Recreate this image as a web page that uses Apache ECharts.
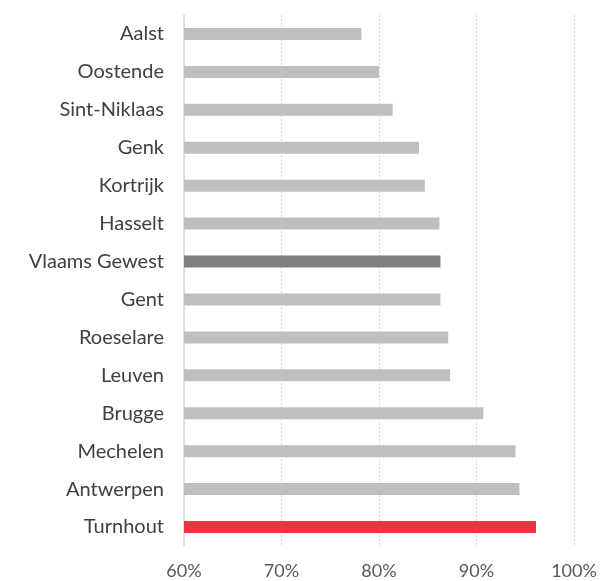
<!DOCTYPE html>
<html>
<head>
<meta charset="utf-8">
<script src="https://cdn.jsdelivr.net/npm/echarts@6/dist/echarts.min.js"></script>
<style>
  html, body { margin: 0; padding: 0; background: #fff; }
  #main { width: 602px; height: 581px; }
</style>
</head>
<body>
<div id="main"></div>
<script>
// steden, van boven naar onder
const cities = ['Aalst', 'Oostende', 'Sint-Niklaas', 'Genk', 'Kortrijk', 'Hasselt', 'Vlaams Gewest',
  'Gent', 'Roeselare', 'Leuven', 'Brugge', 'Mechelen', 'Antwerpen', 'Turnhout'];
const values = [78.2, 80.0, 81.4, 84.1, 84.7, 86.2, 86.3, 86.3, 87.1, 87.3, 90.7, 94.0, 94.4, 96.1];
const xTicks = [60, 70, 80, 90, 100];

const barColor = (name) => {
  if (name === 'Vlaams Gewest') return '#7f7f7f';
  if (name === 'Turnhout') return '#e63740';
  return '#bfbfbf';
};

const chart = echarts.init(document.getElementById('main'), null, { renderer: 'canvas' });

const option = {
  animation: false,
  grid: { left: 184, right: 28, top: 15, bottom: 35, containLabel: false },
  xAxis: {
    type: 'value',
    min: xTicks[0],
    max: xTicks[xTicks.length - 1],
    interval: 10,
    axisLine: { show: false },
    axisTick: { show: false },
    splitLine: { show: true, lineStyle: { color: '#d9d9d9', type: [2, 2], width: 1 } },
    axisLabel: {
      formatter: '{value}%',
      color: '#595959',
      fontSize: 18,
      fontFamily: 'Lato',
      margin: 16
    }
  },
  yAxis: {
    type: 'category',
    inverse: true,
    data: cities,
    axisLine: { show: true, lineStyle: { color: '#d9d9d9', width: 1.5 } },
    axisTick: { show: false },
    axisLabel: {
      color: '#404040',
      fontSize: 20,
      fontFamily: 'Lato',
      margin: 20
    }
  },
  series: [{
    type: 'bar',
    barWidth: 12,
    data: values.map((v, i) => ({ value: v, itemStyle: { color: barColor(cities[i]) } }))
  }]
};

chart.setOption(option);
</script>
</body>
</html>
